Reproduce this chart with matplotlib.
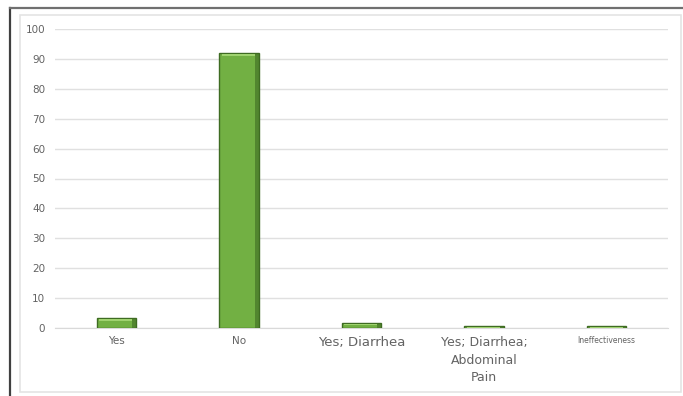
import matplotlib.pyplot as plt
from matplotlib.patches import Rectangle
from matplotlib.lines import Line2D

# 数据
categories = ['Yes', 'No', 'Yes; Diarrhea', 'Yes; Diarrhea;\nAbdominal\nPain', 'Ineffectiveness']
values = [3.5, 92, 1.8, 0.8, 0.8]
label_sizes = [7.5, 7.5, 9.5, 9, 5.5]
yticks = [0, 10, 20, 30, 40, 50, 60, 70, 80, 90, 100]

face = '#72b043'
dark = '#3e6b22'
light = '#9fd26f'

fig = plt.figure(figsize=(6.83, 3.96), dpi=100)
W, H = 683, 396

# 外框和图表区边框
fig.add_artist(Line2D([10 / W, 10 / W], [0, 1 - 8 / H], color='#404040', lw=1.6))
fig.add_artist(Line2D([10 / W, 682 / W], [1 - 8 / H, 1 - 8 / H], color='#707070', lw=1.6))
fig.add_artist(Rectangle((20 / W, 1 - 392 / H), 661 / W, 377 / H, fill=False,
                         edgecolor='#e4e4e4', lw=1.2, zorder=0))

ax = fig.add_axes([55 / W, 1 - 328 / H, 613 / W, 299 / H])
x = list(range(len(categories)))
bw = 0.32

# 带立体效果的柱子
ax.bar(x, values, width=bw, color=face, edgecolor=dark, linewidth=1.0, zorder=3)
for xi, v in zip(x, values):
    inset = min(0.6, v * 0.18)
    ax.add_patch(Rectangle((xi - bw / 2 + 0.02, v - inset - 0.5), bw - 0.05, inset,
                           facecolor=light, edgecolor='none', zorder=4))
    ax.add_patch(Rectangle((xi + bw / 2 - 0.03, 0), 0.03, v,
                           facecolor=dark, edgecolor='none', alpha=0.6, zorder=4))

ax.set_xlim(-0.5, len(categories) - 0.5)
ax.set_ylim(0, 100)
ax.set_yticks(yticks)
ax.tick_params(axis='y', length=0, labelsize=7.5, labelcolor='#636363', pad=7)
ax.tick_params(axis='x', length=0, pad=6)
ax.set_xticks(x)
ax.set_xticklabels(categories, color='#636363')
for lbl, s in zip(ax.get_xticklabels(), label_sizes):
    lbl.set_fontsize(s)
    lbl.set_verticalalignment('top')
    lbl.set_linespacing(1.45)

ax.grid(axis='y', color='#e0e0e0', lw=1, zorder=0)
for side in ['left', 'right', 'top']:
    ax.spines[side].set_visible(False)
ax.spines['bottom'].set_color('#d9d9d9')

fig.savefig('out.png', dpi=100)
